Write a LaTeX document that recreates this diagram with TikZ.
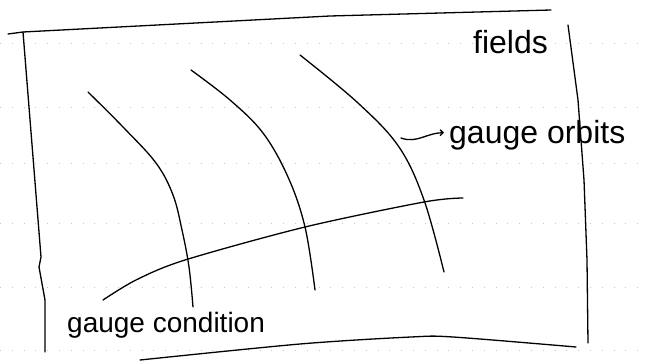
\documentclass[tikz,border=0pt]{standalone}
\usepackage{fontspec}
\setmainfont{Liberation Sans}
\usetikzlibrary{arrows.meta}
\begin{document}
\begin{tikzpicture}[x=1pt,y=-1pt,
  pen/.style={line width=1.3pt,line cap=round,line join=round,black},
  rule/.style={gray!45,line width=0.6pt,dash pattern=on 0.8pt off 11pt},
  hand/.style={inner sep=0pt,anchor=base west,font=\fontsize{#1}{#1}\selectfont}]
\useasboundingbox (0,0) rectangle (645,361);
% faint ruling of the paper
\foreach \yy in {43,107,163,223,287,350}
  \draw[rule] (0,\yy) -- (645,\yy);
% frame
\draw[pen] (8,34) -- (23,32) -- (330,16) -- (551,10);
\draw[pen] (23,32) -- (41,257) -- (39,267) -- (45,300) -- (45,352);
\draw[pen] (568,25) -- (578,100) -- (584,180) -- (587,260) -- (588,343);
\draw[pen] plot[smooth] coordinates {(140,360) (300,344) (411,337) (453,337) (576,347)};
% gauge orbits
\draw[pen] plot[smooth,tension=0.6] coordinates {(88,92) (123,127) (156,163) (173,195) (182,230) (189,267) (193,307)};
\draw[pen] plot[smooth,tension=0.6] coordinates {(191,70) (230,100) (263,133) (288,177) (305,227) (315,290)};
\draw[pen] plot[smooth,tension=0.6] coordinates {(300,55) (358,103) (399,147) (424,200) (444,272)};
% gauge condition
\draw[pen] plot[smooth] coordinates {(103,300) (136,280) (185,260) (305,227) (424,202) (463,198)};
% labels
\node[hand=32] (fields) at (473,53) {fields};
\node[hand=32] (orbits) at (449,143) {gauge orbits};
\node[hand=28] (cond) at (67,332) {gauge condition};
% arrow
\coordinate (a0) at (401,138);
\draw[pen,-{Straight Barb[length=3pt,width=6pt]}] (a0) to[out=-20,in=180] ([xshift=-5pt,yshift=2pt]orbits.west);
\end{tikzpicture}
\end{document}
